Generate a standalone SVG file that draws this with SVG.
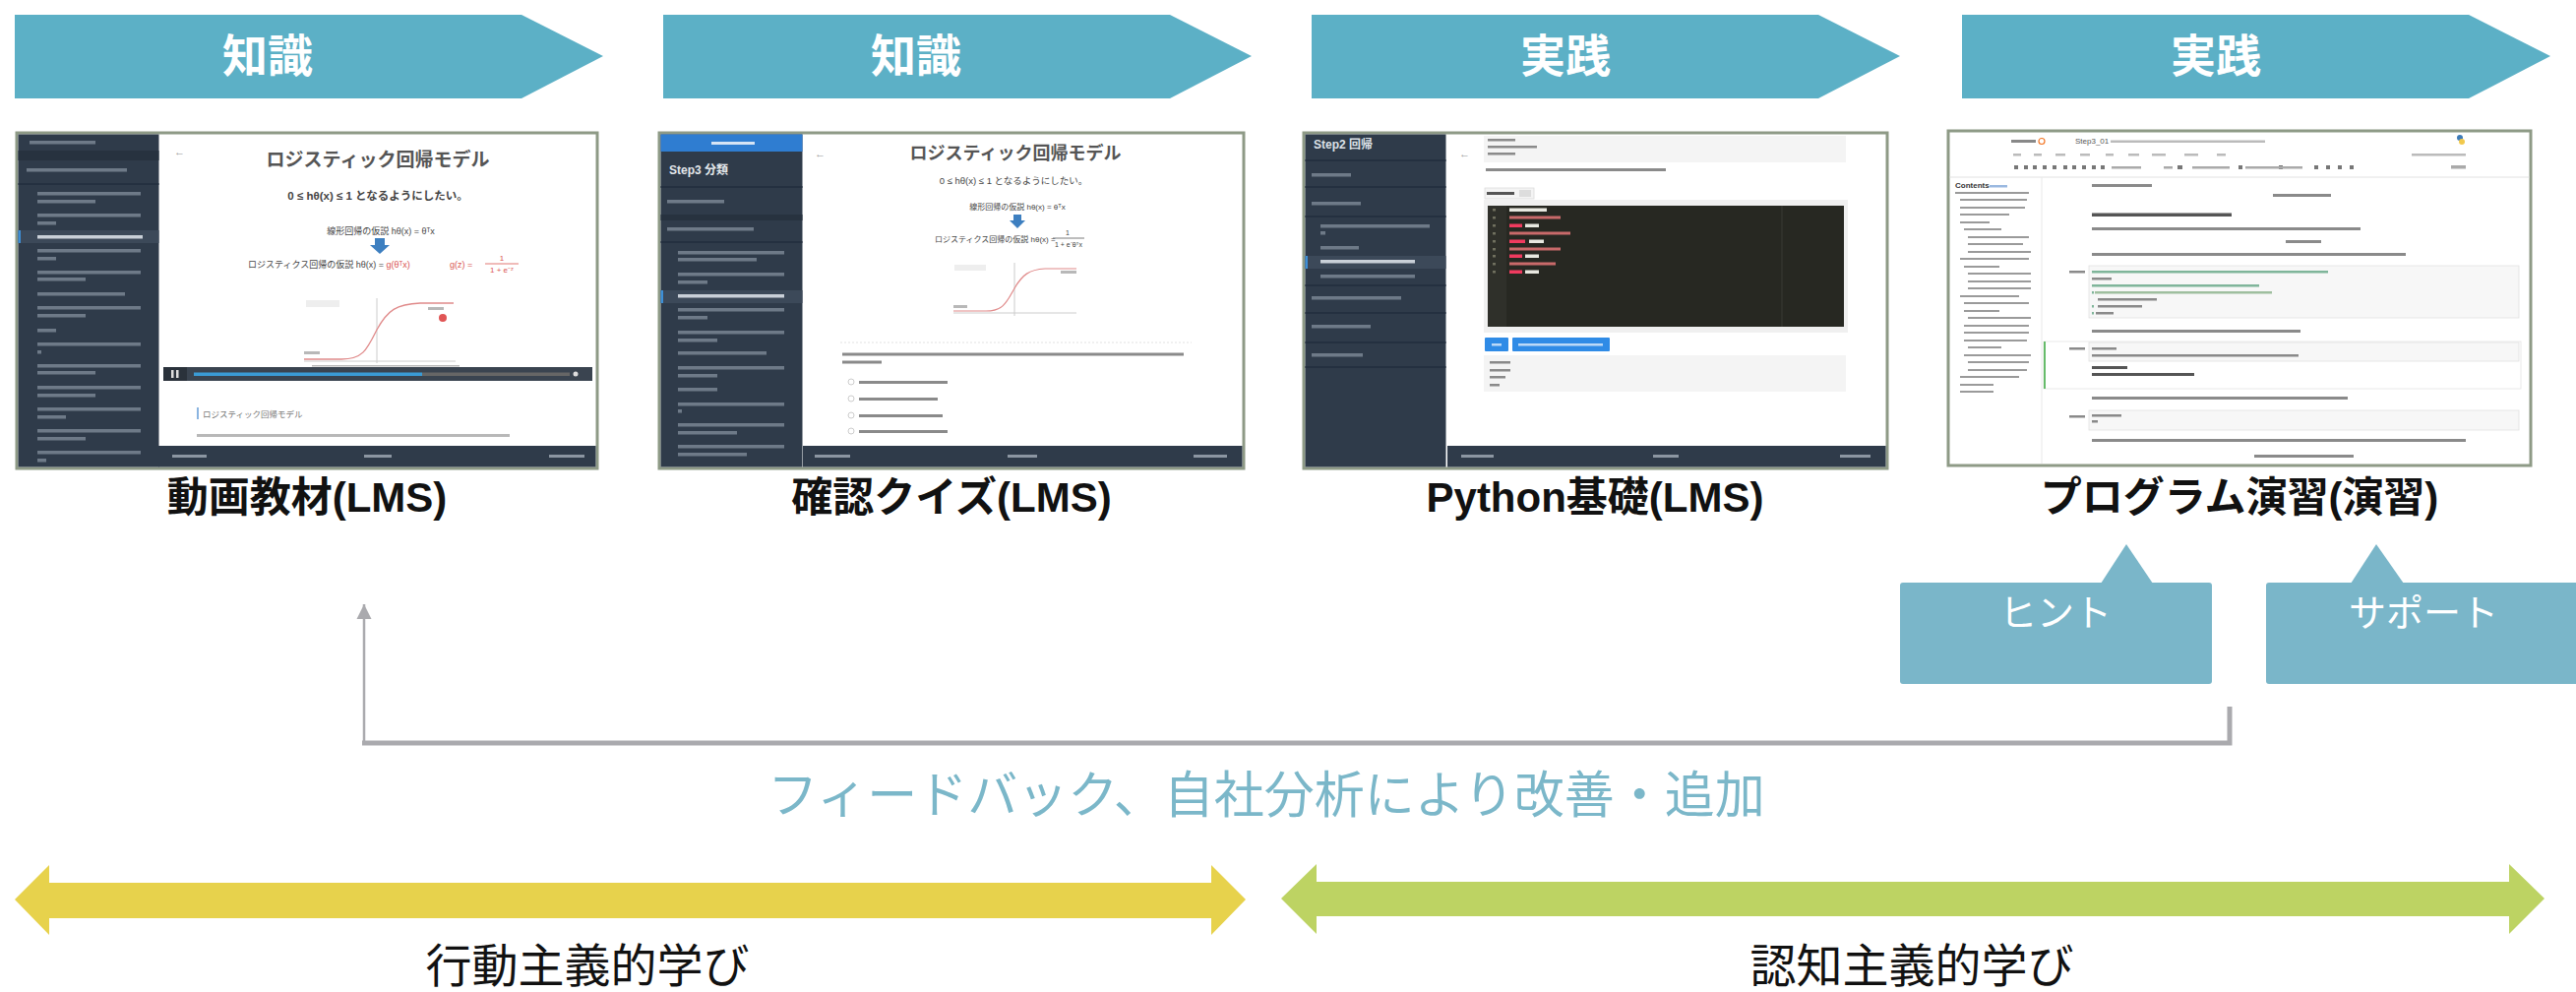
<svg xmlns="http://www.w3.org/2000/svg" width="2618" height="1008" viewBox="0 0 2618 1008">
<style>
text{font-family:"Liberation Sans","Noto Sans CJK JP",sans-serif}
.chev{fill:#5cb0c6}
.chevtxt{font-family:"Noto Sans CJK JP",sans-serif;font-weight:bold;font-size:46px;fill:#fff;text-anchor:middle}
.cap{font-weight:bold;font-size:42px;fill:#111;text-anchor:middle}
.frame{fill:#fff;stroke:#8e9a86;stroke-width:3}
.side{fill:#2f3b4a}
.div{stroke:#243040;stroke-width:2}
.sbar{fill:#6e7a88}
.sbarhi{fill:#c9d0d8}
.tbar{fill:#b8b8b8}
.dbar{fill:#8a8a8a}
.bbar{fill:#8c96a2}
.callout{fill:#7ab6c9}
.cotxt{font-family:"Noto Sans CJK JP",sans-serif;font-size:38px;fill:#fff;text-anchor:middle}
.fb{fill:none;stroke:#aaaaae}
.fbtxt{font-family:"Noto Sans CJK JP",sans-serif;font-size:51px;fill:#7bb7c9;text-anchor:middle}
.learn{font-family:"Noto Sans CJK JP",sans-serif;font-size:47px;fill:#111;text-anchor:middle}
.sst{fill:#555;text-anchor:middle}
.small{fill:#444}
</style>
<defs>
<filter id="soft" x="-5%" y="-5%" width="110%" height="110%"><feGaussianBlur stdDeviation="0.6"/></filter>
<marker id="ah" viewBox="0 0 10 10" refX="10" refY="5" markerWidth="15" markerHeight="17" markerUnits="userSpaceOnUse" orient="auto"><path d="M0,0 L10,5 L0,10 z" fill="#aaaaae"/></marker>
</defs>

<!-- top chevrons -->
<g id="step1"><polygon class="chev" points="15,15 530,15 613,57 530,100 15,100"/><text class="chevtxt" x="272" y="73">知識</text></g>
<g id="step2"><polygon class="chev" points="674,15 1189,15 1272,57 1189,100 674,100"/><text class="chevtxt" x="931" y="73">知識</text></g>
<g id="step3"><polygon class="chev" points="1333,15 1848,15 1931,57 1848,100 1333,100"/><text class="chevtxt" x="1591" y="73">実践</text></g>
<g id="step4"><polygon class="chev" points="1994,15 2509,15 2592,57 2509,100 1994,100"/><text class="chevtxt" x="2252" y="73">実践</text></g>

<!-- screenshot 1 -->
<g id="shot1" transform="translate(17,135)">
<rect class="frame" x="0" y="0" width="590" height="341"/>
<rect class="side" x="1.5" y="1.5" width="143" height="338"/>
<rect x="1.5" y="18" width="143" height="10" fill="#27323f"/>
<line class="div" x1="1.5" y1="52" x2="144.5" y2="52"/>
<rect x="1.5" y="99" width="143" height="13" fill="#3c4959"/>
<rect x="1.5" y="99" width="2.5" height="13" fill="#3d8fd6"/>
<g filter="url(#soft)">
<path class="sbar" d="M13,8h67v3.5h-67z M10,36h102v3.5h-102z M21,60h105v3.5h-105z M21,68h59v3.5h-59z M21,82h105v3.5h-105z M21,90h19v3.5h-19z M21,118h105v3.5h-105z M21,126h19v3.5h-19z M21,140h105v3.5h-105z M21,147h49v3.5h-49z M21,162h89v3.5h-89z M21,176h105v3.5h-105z M21,184h49v3.5h-49z M21,199h19v3.5h-19z M21,213h105v3.5h-105z M21,221h4v3.5h-4z M21,235h105v3.5h-105z M21,242h59v3.5h-59z M21,257h105v3.5h-105z M21,265h59v3.5h-59z M21,279h105v3.5h-105z M21,287h29v3.5h-29z M21,301h105v3.5h-105z M21,309h49v3.5h-49z M21,323h105v3.5h-105z M21,331h9v3.5h-9z"/>
<path class="sbarhi" d="M21,104h107v3.5h-107z"/>
</g>
<text x="160" y="23" font-size="11" fill="#999">←</text>
<text class="sst" x="367" y="34" font-size="19" font-weight="bold">ロジスティック回帰モデル</text>
<text class="small" x="367" y="68" font-size="11.5" text-anchor="middle" font-weight="bold">0 ≤ hθ(x) ≤ 1 となるようにしたい。</text>
<text class="small" x="370" y="103" font-size="9" text-anchor="middle">線形回帰の仮説 hθ(x) = θᵀx</text>
<polygon points="364,107 374,107 374,114 379,114 369,123 359,114 364,114" fill="#3d7fc0"/>
<text class="small" x="235" y="137" font-size="9">ロジスティクス回帰の仮説 hθ(x) = <tspan fill="#d9534f">g(θᵀx)</tspan></text>
<text x="440" y="137" font-size="9" fill="#d9534f">g(z) =</text>
<text x="493" y="130" font-size="8" fill="#d9534f" text-anchor="middle">1</text>
<line x1="476" y1="133" x2="510" y2="133" stroke="#d9534f" stroke-width="0.8"/>
<text x="493" y="142" font-size="8" fill="#d9534f" text-anchor="middle">1 + e⁻ᶻ</text>
<rect x="294" y="170" width="34" height="7" fill="#eee"/>
<line x1="366" y1="168" x2="366" y2="234" stroke="#ccc"/>
<line x1="292" y1="232" x2="446" y2="232" stroke="#ccc"/>
<path d="M292,230 L330,230 C352,230 356,220 366,200 C377,180 386,174 410,173 L444,173" fill="none" stroke="#e08a8a" stroke-width="1.3"/>
<circle cx="433" cy="188" r="4" fill="#e05555"/>
<g filter="url(#soft)"><path class="tbar" d="M418,177h16v3h-16z M292,222h16v3h-16z M300,236h150v1.5h-150z"/></g>
<rect x="149" y="238" width="436" height="14" fill="#3a4450"/>
<rect x="149" y="238" width="24" height="14" fill="#2a323b"/>
<rect x="157" y="241" width="2.5" height="8" fill="#ddd"/><rect x="162" y="241" width="2.5" height="8" fill="#ddd"/>
<rect x="180" y="243.5" width="232" height="3.5" fill="#3a9bd5"/>
<rect x="412" y="243.5" width="150" height="3.5" fill="#666"/>
<circle cx="568" cy="245" r="2.5" fill="#ddd"/>
<rect x="183" y="279" width="2" height="12" fill="#8ab4e0"/>
<text x="189" y="289" font-size="8.5" fill="#777">ロジスティック回帰モデル</text>
<g filter="url(#soft)"><path class="tbar" d="M183,306h318v3h-318z"/></g>
<rect class="side" x="144" y="318" width="444.5" height="21.5"/>
<path class="bbar" d="M158,327h35v3h-35z M353,327h28v3h-28z M541,327h36v3h-36z"/>
</g>

<!-- screenshot 2 -->
<g id="shot2" transform="translate(670,135)">
<rect class="frame" x="0" y="0" width="594" height="341"/>
<rect class="side" x="1.5" y="1.5" width="144" height="338"/>
<rect x="1.5" y="1.5" width="144" height="17.5" fill="#2f7dd1"/>
<rect x="53" y="9" width="44" height="3" fill="#d6e4f5"/>
<text x="10" y="42" font-size="12" fill="#e4e8ec" font-weight="bold">Step3 分類</text>
<line class="div" x1="1.5" y1="55" x2="145.5" y2="55"/>
<rect x="1.5" y="83" width="144" height="6" fill="#27323f"/>
<line class="div" x1="1.5" y1="111" x2="145.5" y2="111"/>
<rect x="1.5" y="160" width="144" height="13" fill="#3c4959"/>
<rect x="1.5" y="160" width="2.5" height="13" fill="#3d8fd6"/>
<g filter="url(#soft)">
<path class="sbar" d="M8,68h58v3.5h-58z M8,96h88v3.5h-88z M19,120h108v3.5h-108z M19,127h80v3.5h-80z M19,142h108v3.5h-108z M19,150h30v3.5h-30z M19,178h108v3.5h-108z M19,186h30v3.5h-30z M19,201h108v3.5h-108z M19,209h40v3.5h-40z M19,222h90v3.5h-90z M19,237h108v3.5h-108z M19,245h40v3.5h-40z M19,259h40v3.5h-40z M19,274h108v3.5h-108z M19,281h4v3.5h-4z M19,295h108v3.5h-108z M19,303h60v3.5h-60z M19,317h108v3.5h-108z M19,325h70v3.5h-70z"/>
<path class="sbarhi" d="M19,164h108v3.5h-108z"/>
</g>
<text x="158" y="25" font-size="11" fill="#999">←</text>
<text class="sst" x="362" y="27" font-size="18" font-weight="bold">ロジスティック回帰モデル</text>
<text class="small" x="360" y="52" font-size="9.5" text-anchor="middle">0 ≤ hθ(x) ≤ 1 となるようにしたい。</text>
<text class="small" x="364" y="78" font-size="8" text-anchor="middle">線形回帰の仮説 hθ(x) = θᵀx</text>
<polygon points="360,83 368,83 368,89 372,89 364,97 356,89 360,89" fill="#3d7fc0"/>
<text class="small" x="280" y="111" font-size="8">ロジスティクス回帰の仮説 hθ(x) =</text>
<text class="small" x="415" y="104" font-size="7" text-anchor="middle">1</text>
<line x1="400" y1="107" x2="432" y2="107" stroke="#444" stroke-width="0.7"/>
<text class="small" x="416" y="116" font-size="7" text-anchor="middle">1 + e⁻θᵀx</text>
<rect x="300" y="134" width="32" height="6" fill="#eee"/>
<line x1="361" y1="132" x2="361" y2="186" stroke="#ccc"/>
<line x1="299" y1="183" x2="424" y2="183" stroke="#ccc"/>
<path d="M299,181 L332,181 C350,181 353,172 361,158 C369,144 376,139 392,138 L424,138" fill="none" stroke="#e08a8a" stroke-width="1.2"/>
<g filter="url(#soft)"><path class="tbar" d="M408,140h16v3h-16z M299,175h14v3h-14z"/></g>
<line x1="184" y1="213" x2="541" y2="213" stroke="#e2e2e2" stroke-dasharray="2 2"/>
<g filter="url(#soft)">
<path class="dbar" d="M186,223.5h347v3h-347z M186,231.5h40v3h-40z M203,252h90v3h-90z M203,269h80v3h-80z M203,286h85v3h-85z M203,302h90v3h-90z"/>
</g>
<g fill="none" stroke="#ccc"><circle cx="195" cy="253" r="3"/><circle cx="195" cy="270" r="3"/><circle cx="195" cy="287" r="3"/><circle cx="195" cy="303" r="3"/></g>
<rect class="side" x="146" y="318" width="446.5" height="21.5"/>
<path class="bbar" d="M158,327h36v3h-36z M354,327h30v3h-30z M543,327h34v3h-34z"/>
</g>

<!-- screenshot 3 -->
<g id="shot3" transform="translate(1325,135)">
<rect class="frame" x="0" y="0" width="593" height="341"/>
<rect class="side" x="1.5" y="1.5" width="143" height="338"/>
<text x="10" y="16" font-size="12" fill="#dde2e8" font-weight="bold">Step2 回帰</text>
<g class="div"><line x1="1.5" y1="28" x2="144.5" y2="28"/><line x1="1.5" y1="55" x2="144.5" y2="55"/><line x1="1.5" y1="85" x2="144.5" y2="85"/><line x1="1.5" y1="155" x2="144.5" y2="155"/><line x1="1.5" y1="183" x2="144.5" y2="183"/><line x1="1.5" y1="213" x2="144.5" y2="213"/><line x1="1.5" y1="238" x2="144.5" y2="238"/></g>
<rect x="1.5" y="125" width="143" height="13" fill="#3c4959"/>
<rect x="1.5" y="125" width="2.5" height="13" fill="#3d8fd6"/>
<g filter="url(#soft)">
<path class="sbar" d="M8,41h40v3.5h-40z M8,70h50v3.5h-50z M17,93h111v3.5h-111z M17,100h5v3.5h-5z M17,115h39v3.5h-39z M17,144h96v3.5h-96z M8,166h91v3.5h-91z M8,195h60v3.5h-60z M8,224h52v3.5h-52z"/>
<path class="sbarhi" d="M17,129h96v3.5h-96z"/>
</g>
<rect x="183" y="3" width="368" height="27" fill="#f4f4f4"/>
<text x="158" y="25" font-size="11" fill="#999">←</text>
<g filter="url(#soft)"><path class="dbar" d="M187,6h28v2.5h-28z M187,13h50v2.5h-50z M187,20h28v2.5h-28z M185,36h183v3h-183z"/></g>
<rect x="184" y="56" width="50" height="11" fill="#f4f4f4" stroke="#ddd" stroke-width="0.8"/>
<rect x="186" y="60" width="28" height="3" fill="#555"/>
<rect x="219" y="58" width="12" height="7" fill="#ddd"/>
<rect x="183" y="68" width="370" height="135" fill="#f0f0f0"/>
<rect x="187" y="74" width="362" height="123" fill="#272822"/>
<rect x="187" y="74" width="19" height="123" fill="#2f302a"/>
<line x1="486" y1="74" x2="486" y2="197" stroke="#3a3b35"/>
<g filter="url(#soft)">
<path fill="#6f705f" d="M192,77h3v2.5h-3z M192,85h3v2.5h-3z M192,93h3v2.5h-3z M192,101h3v2.5h-3z M192,109h3v2.5h-3z M192,117h3v2.5h-3z M192,124h3v2.5h-3z M192,132h3v2.5h-3z M192,140h3v2.5h-3z"/>
<path fill="#e8e8e0" d="M209,76.5h38v3.5h-38z M225,92.5h14v3.5h-14z M229,108.5h15v3.5h-15z M225,123.5h14v3.5h-14z M225,139.5h14v3.5h-14z"/>
<path fill="#c96a6a" d="M209,84.5h52v3h-52z M209,100.5h62v3h-62z M209,116.5h52v3h-52z M209,131.5h47v3h-47z"/>
<path fill="#f03a5f" d="M209,92.5h13v3.5h-13z M209,108.5h16v3.5h-16z M209,123.5h13v3.5h-13z M209,139.5h13v3.5h-13z"/>
</g>
<rect x="184" y="208" width="24" height="14" fill="#2f8be6" rx="1"/>
<rect x="212" y="208" width="99" height="14" fill="#2f8be6" rx="1"/>
<path fill="#bcd9f7" d="M191,214h10v2.5h-10z M218,214h86v2.5h-86z"/>
<rect x="183" y="226" width="368" height="37" fill="#f4f4f4"/>
<g filter="url(#soft)"><path class="dbar" d="M189,232h21v2.5h-21z M189,240h21v2.5h-21z M189,247h16v2.5h-16z M189,255h10v2.5h-10z"/></g>
<rect class="side" x="146" y="318" width="445.5" height="21.5"/>
<path class="bbar" d="M160,327h33v3h-33z M355,327h26v3h-26z M545,327h31v3h-31z"/>
</g>

<!-- screenshot 4 -->
<g id="shot4" transform="translate(1980,133)">
<rect class="frame" x="0" y="0" width="592" height="340"/>
<g filter="url(#soft)">
<path fill="#888" d="M64,9h25v3h-25z"/>
<path fill="#bbb" d="M165,9.5h157v2.5h-157z M66,23h8v2.5h-8z M87,23h8v2.5h-8z M109,23h10v2.5h-10z M134,23h10v2.5h-10z M160,23h8v2.5h-8z M183,23h11v2.5h-11z M207,23h14v2.5h-14z M240,23h14v2.5h-14z M273,23h9v2.5h-9z M471,23h55v2.5h-55z"/>
<path fill="#777" d="M67,35h4v4h-4z M77,35h4v4h-4z M86,35h4v4h-4z M96,35h4v4h-4z M106,35h4v4h-4z M117,35h4v4h-4z M126,35h4v4h-4z M136,35h4v4h-4z M146,35h4v4h-4z M155,35h4v4h-4z M233,35h5v4h-5z M295,35h4v4h-4z M336,35h4v4h-4z M372,35h4v4h-4z M384,35h4v4h-4z M396,35h4v4h-4z M408,35h4v4h-4z"/>
<path fill="#aaa" d="M166,36h30v2.5h-30z M219,36h9v2.5h-9z M248,36h38v2.5h-38z M302,36h58v2.5h-58z M511,35h15v3.5h-15z"/>
</g>
<circle cx="95" cy="10.5" r="3" fill="none" stroke="#f37726" stroke-width="1.2"/>
<text x="129" y="13" font-size="8" fill="#555">Step3_01</text>
<circle cx="520" cy="7" r="3" fill="#3d7bb8"/><circle cx="522" cy="11" r="3" fill="#f2c94c"/>
<line x1="1.5" y1="47" x2="590.5" y2="47" stroke="#e2e2e2"/>
<line x1="95" y1="47" x2="95" y2="338" stroke="#e8e8e8"/>
<text x="7" y="58" font-size="8" fill="#333" font-weight="bold">Contents</text>
<path fill="#9ab8e0" d="M42,55h18v2.5h-18z"/>
<g filter="url(#soft)">
<path fill="#9a9a9a" d="M7,62h75v2h-75z M12,69h68v2h-68z M12,77h66v2h-66z M12,84h50v2h-50z M12,92h30v2h-30z M16,99h38v2h-38z M20,107h62v2h-62z M20,114h56v2h-56z M20,122h64v2h-64z M12,129h70v2h-70z M16,137h36v2h-36z M20,144h64v2h-64z M20,152h64v2h-64z M20,159h64v2h-64z M12,167h60v2h-60z M16,174h66v2h-66z M16,182h36v2h-36z M20,189h64v2h-64z M16,197h66v2h-66z M16,204h66v2h-66z M16,212h64v2h-64z M20,219h34v2h-34z M16,227h68v2h-68z M20,234h62v2h-62z M20,242h60v2h-60z M12,249h60v2h-60z M12,257h34v2h-34z M12,264h34v2h-34z"/>
</g>
<rect x="143" y="137" width="437" height="53" fill="#f7f7f7" stroke="#e0e0e0" stroke-width="0.8"/>
<rect x="97" y="214" width="485" height="48" fill="#fff" stroke="#e3e3e3" stroke-width="0.8"/>
<rect x="97" y="214" width="2" height="48" fill="#66bb6a"/>
<rect x="143" y="215" width="437" height="19" fill="#f7f7f7" stroke="#e0e0e0" stroke-width="0.8"/>
<rect x="143" y="284" width="437" height="20" fill="#f7f7f7" stroke="#e0e0e0" stroke-width="0.8"/>
<g filter="url(#soft)">
<path fill="#8a8a8a" d="M146,54h61v3h-61z M330,64h59v3h-59z M146,98h273v3h-273z M343,111h36v3h-36z M146,124h319v3h-319z M146,202h212v3h-212z M146,270h260v3h-260z M146,313h380v3h-380z M311,329h101v3h-101z M123,142h16v2.5h-16z M123,220h16v2.5h-16z M123,289h16v2.5h-16z M146,149h20v2.5h-20z M152,170h60v2.5h-60z M152,177h45v2.5h-45z M150,184h18v2.5h-18z M146,220h25v2.5h-25z M146,227h210v2.5h-210z M146,288h30v2.5h-30z M146,294h6v2.5h-6z"/>
<path fill="#555" d="M146,83.5h142v3.5h-142z M146,239h36v3h-36z M146,246h104v3h-104z"/>
<path fill="#7fb59a" d="M146,142h240v2.5h-240z M146,156h170v2.5h-170z M146,163h2v2.5h-2z M146,177h2v2.5h-2z M146,184h2v2.5h-2z"/>
<path fill="#9fbf9f" d="M149,163h180v2.5h-180z"/>
</g>
</g>

<!-- captions -->
<g id="caption1"><text class="cap" x="312" y="520">動画教材(LMS)</text></g>
<g id="caption2"><text class="cap" x="967" y="520">確認クイズ(LMS)</text></g>
<g id="caption3"><text class="cap" x="1621" y="520">Python基礎(LMS)</text></g>
<g id="caption4"><text class="cap" x="2276" y="520">プログラム演習(演習)</text></g>

<!-- callouts -->
<g id="hint">
<rect class="callout" x="1931" y="592" width="317" height="103" rx="3"/>
<polygon class="callout" points="2135,593 2161,553 2188,593"/>
<text class="cotxt" x="2089" y="636">ヒント</text>
</g>
<g id="support">
<rect class="callout" x="2303" y="592" width="320" height="103" rx="3"/>
<polygon class="callout" points="2389,593 2415,553 2443,593"/>
<text class="cotxt" x="2463" y="636">サポート</text>
</g>

<!-- connectors -->
<g id="connectors">
<path class="fb" d="M2266,718 V755 H368" stroke-width="5"/>
<path class="fb" d="M370,755 V614" stroke-width="2.5" marker-end="url(#ah)"/>
</g>
<g id="feedback-label"><text class="fbtxt" x="1287" y="826">フィードバック、自社分析により改善・追加</text></g>

<!-- learning arrows -->
<g id="behaviorism">
<polygon points="15,914 50,879 50,897 1231,897 1231,879 1266,914 1231,950 1231,933 50,933 50,950" fill="#e7d24c"/>
<text class="learn" x="597" y="998">行動主義的学び</text>
</g>
<g id="cognitivism">
<polygon points="1302,913 1338,878 1338,896 2550,896 2550,878 2586,913 2550,949 2550,931 1338,931 1338,949" fill="#bdd363"/>
<text class="learn" x="1943" y="998">認知主義的学び</text>
</g>
</svg>
